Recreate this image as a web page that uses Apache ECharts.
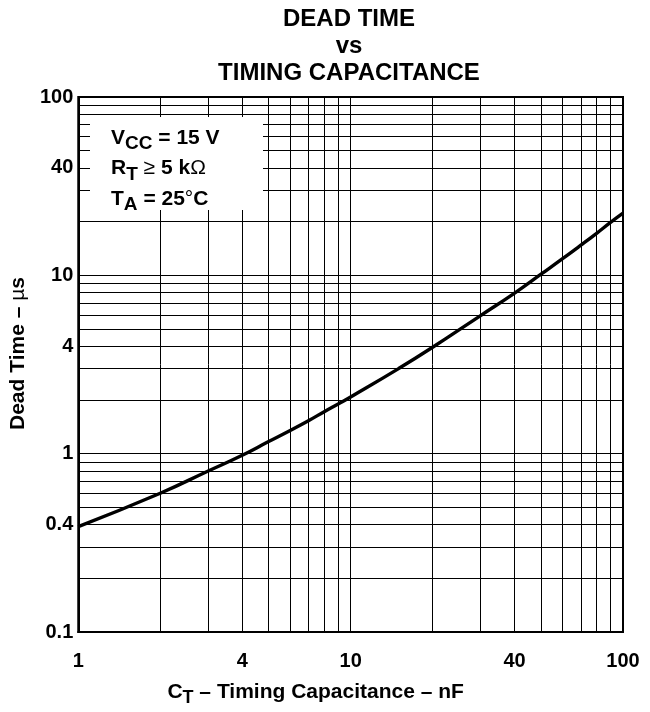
<!DOCTYPE html>
<html>
<head>
<meta charset="utf-8">
<script src="https://cdn.jsdelivr.net/npm/echarts@6/dist/echarts.min.js"></script>
<style>
  html, body { margin: 0; padding: 0; background: #fff; }
  #chart { width: 650px; height: 712px; }
</style>
</head>
<body>
<div id="chart"></div>
<script>
// values (C_T in nF, dead time in µs)
const capacitance = [1, 2, 3, 4, 5, 6, 7, 8, 9, 10, 15, 20, 30, 40, 50, 60, 70, 80, 90, 100]
const deadTime = [0.39, 0.60, 0.80, 0.98, 1.17, 1.35, 1.53, 1.72, 1.90, 2.08, 3.0, 3.95, 5.95, 7.95, 10.15, 12.4, 14.75, 17.2, 19.8, 22.3]

// minor grid lines of the log paper
const xMinorGrid = [2, 3, 4, 5, 6, 7, 8, 9, 20, 30, 40, 50, 60, 70, 80, 90]
const yMinorGrid = [0.2, 0.3, 0.4, 0.5, 0.6, 0.7, 0.8, 0.9, 2, 3, 4, 5, 6, 7, 8, 9, 20, 30, 40, 50, 60, 70, 80, 90]
// labels that are not on a decade
const xExtraLabels = [4, 40]
const yExtraLabels = [0.4, 4, 40]

const conditions = ['V{sub|CC} = 15 V', 'R{sub|T} {sym|≥} 5 k{sym|Ω}', 'T{sub|A} = 25{sym|°}C']

const FONT = '"Liberation Sans", Arial, Helvetica, sans-serif'
const tickFont = { fontFamily: FONT, fontSize: 20, fontWeight: 'bold', color: '#000' }

const chart = echarts.init(document.getElementById('chart'))

const gridLines = [
  ...xMinorGrid.map((v) => ({
    xAxis: v,
    label: {
      show: xExtraLabels.includes(v),
      position: 'start',
      distance: 19,
      formatter: String(v),
      ...tickFont,
    },
  })),
  ...yMinorGrid.map((v) => ({
    yAxis: v,
    label: {
      show: yExtraLabels.includes(v),
      position: 'start',
      distance: 5,
      formatter: String(v),
      ...tickFont,
    },
  })),
]

chart.setOption({
  animation: false,
  title: {
    text: 'DEAD TIME\nvs\nTIMING CAPACITANCE',
    left: 344,
    top: 1,
    textAlign: 'center',
    textStyle: { fontFamily: FONT, fontSize: 24, fontWeight: 'bold', color: '#000', lineHeight: 27 },
  },
  grid: { left: 77, right: 27, top: 97, bottom: 71, show: true, borderColor: '#000', borderWidth: 2 },
  xAxis: {
    type: 'log',
    logBase: 10,
    min: 1,
    max: 100,
    name: 'C{sub|T} – Timing Capacitance – nF',
    nameLocation: 'middle',
    nameGap: 45,
    nameTextStyle: {
      fontFamily: FONT, fontSize: 21, fontWeight: 'bold', color: '#000',
      padding: [0, 70, 0, 0],
      rich: { sub: { fontFamily: FONT, fontSize: 18, fontWeight: 'bold', color: '#000', padding: [12, 0, 0, 0] } },
    },
    axisLine: { show: true, lineStyle: { color: '#000', width: 2 } },
    axisTick: { show: false },
    axisLabel: { margin: 19, formatter: (v) => String(v), ...tickFont },
    splitLine: { show: true, lineStyle: { color: '#000', width: 1 } },
  },
  yAxis: {
    type: 'log',
    logBase: 10,
    min: 0.1,
    max: 100,
    name: 'Dead Time – {mu|µ}s',
    nameLocation: 'middle',
    nameGap: 45,
    nameTextStyle: {
      fontFamily: FONT, fontSize: 21, fontWeight: 'bold', color: '#000',
      padding: [0, 0, 0, 22],
      rich: { mu: { fontFamily: FONT, fontSize: 21, fontWeight: 'normal', color: '#000' } },
    },
    axisLine: { show: true, lineStyle: { color: '#000', width: 2 } },
    axisTick: { show: false },
    axisLabel: { margin: 5, formatter: (v) => String(v), ...tickFont },
    splitLine: { show: true, lineStyle: { color: '#000', width: 1 } },
  },
  graphic: [
    { type: 'rect', z: 50, shape: { x: 90, y: 117, width: 173, height: 93 }, style: { fill: '#fff' } },
    ...conditions.map((t, i) => ({
      type: 'text',
      z: 51,
      x: 111,
      y: 138 + i * 30.5,
      style: {
        text: t,
        fill: '#000',
        fontFamily: FONT,
        fontSize: 21,
        fontWeight: 'bold',
        verticalAlign: 'middle',
        rich: {
          sub: { fontFamily: FONT, fontSize: 19, fontWeight: 'bold', fill: '#000', padding: [12, 0, 0, 0] },
          sym: { fontFamily: FONT, fontSize: 21, fontWeight: 'normal', fill: '#000' },
        },
      },
    })),
  ],
  series: [
    {
      type: 'line',
      data: capacitance.map((c, i) => [c, deadTime[i]]),
      smooth: true,
      symbol: 'none',
      silent: true,
      z: 5,
      lineStyle: { color: '#000', width: 3.4 },
      markLine: {
        silent: true,
        symbol: ['none', 'none'],
        animation: false,
        lineStyle: { color: '#000', width: 1, type: 'solid' },
        emphasis: { disabled: true },
        data: gridLines,
      },
    },
  ],
})
</script>
</body>
</html>
